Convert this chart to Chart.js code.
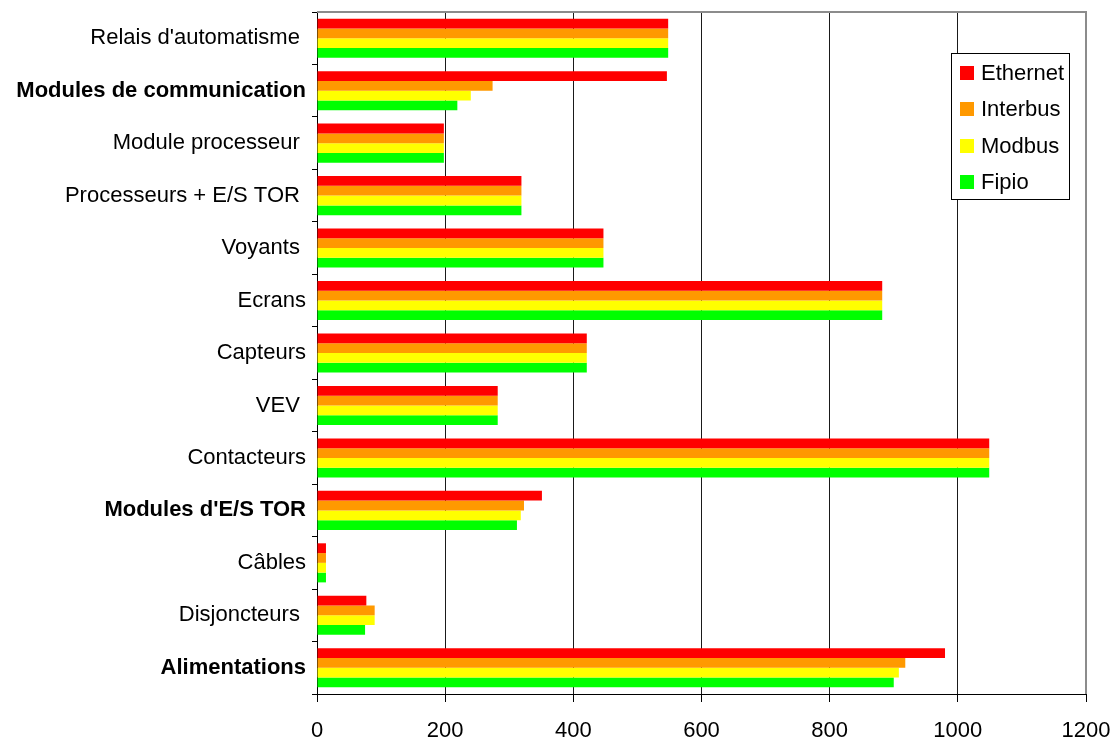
<!DOCTYPE html>
<html>
<head>
<meta charset="utf-8">
<script src="https://cdn.jsdelivr.net/npm/chart.js@4"></script>
<style>
  html, body { margin: 0; padding: 0; background: #fff; }
  #wrap { width: 1115px; height: 740px; }
</style>
</head>
<body>
<div id="wrap"><canvas id="grafico" width="1115" height="740"></canvas></div>
<script>
// Catégories (de haut en bas)
const categories = [
    "Relais d'automatisme ",
    'Modules de communication',
    'Module processeur ',
    'Processeurs + E/S TOR ',
    'Voyants ',
    'Ecrans',
    'Capteurs',
    'VEV ',
    'Contacteurs',
    "Modules d'E/S TOR",
    'Câbles',
    'Disjoncteurs ',
    'Alimentations'
];

// Séries
const seriesNames = ['Ethernet', 'Interbus', 'Modbus', 'Fipio'];
const ethernet = [548, 546, 198, 319, 447, 882, 421, 282, 1049, 351, 14, 77, 980];
const interbus = [548, 274, 198, 319, 447, 882, 421, 282, 1049, 323, 14, 90, 918];
const modbus   = [548, 240, 198, 319, 447, 882, 421, 282, 1049, 318, 14, 90, 908];
const fipio    = [548, 219, 198, 319, 447, 882, 421, 282, 1049, 312, 14, 75, 900];

// Graduations de l'axe des valeurs
const xTicks = [0, 200, 400, 600, 800, 1000, 1200];

const couleurs = ['#ff0000', '#ff9900', '#ffff00', '#00ff00'];
const labelsGras = ['Modules de communication', "Modules d'E/S TOR", 'Alimentations'];
const POLICE = "'Liberation Sans', Arial, sans-serif";

// Cadre gris en haut et à droite + légende dans la zone de tracé
const cadreEtLegende = {
    id: 'cadreEtLegende',
    afterDatasetsDraw(chart) {
        const { ctx, chartArea: a } = chart;
        ctx.save();
        ctx.strokeStyle = '#8c8c8c';
        ctx.lineWidth = 2;
        ctx.beginPath();
        ctx.moveTo(a.left, a.top);
        ctx.lineTo(a.right, a.top);
        ctx.lineTo(a.right, a.bottom);
        ctx.stroke();
        ctx.restore();
    },
    afterDraw(chart) {
        const { ctx, chartArea: a } = chart;
        const x0 = a.right - 135, y0 = a.top + 41, w = 118, h = 146;
        ctx.save();
        ctx.fillStyle = '#fff';
        ctx.fillRect(x0, y0, w, h);
        ctx.strokeStyle = '#000';
        ctx.lineWidth = 1;
        ctx.strokeRect(x0 + 0.5, y0 + 0.5, w, h);
        ctx.font = '22px ' + POLICE;
        ctx.textBaseline = 'middle';
        ctx.textAlign = 'left';
        chart.data.datasets.forEach((ds, i) => {
            const y = y0 + 20 + i * 36.3;
            ctx.fillStyle = ds.backgroundColor;
            ctx.fillRect(x0 + 9, Math.round(y - 7), 14, 14);
            ctx.fillStyle = '#000';
            ctx.fillText(ds.label, x0 + 30, y + 1);
        });
        ctx.restore();
    }
};

const valeurs = [ethernet, interbus, modbus, fipio];

new Chart(document.getElementById('grafico'), {
    type: 'bar',
    data: {
        labels: categories,
        datasets: seriesNames.map((nom, i) => ({
            label: nom,
            data: valeurs[i],
            backgroundColor: couleurs[i],
            borderWidth: 0,
            barPercentage: 1,
            categoryPercentage: 0.745
        }))
    },
    options: {
        indexAxis: 'y',
        responsive: false,
        animation: false,
        layout: { padding: { top: 12, right: 29, left: 0, bottom: 0 } },
        plugins: {
            legend: { display: false },
            tooltip: { enabled: false }
        },
        scales: {
            x: {
                min: 0,
                max: 1200,
                afterBuildTicks: (scale) => {
                    scale.ticks = xTicks.map(v => ({ value: v }));
                },
                afterFit: (scale) => {
                    scale.height = 46;
                    scale.paddingLeft = 0;
                    scale.paddingRight = 0;
                },
                border: { display: true, color: '#000', width: 1 },
                grid: {
                    color: (c) => c.tick && c.tick.value === 1200 ? '#8c8c8c' : '#1a1a1a',
                    tickColor: '#000',
                    tickLength: 8,
                    lineWidth: 1
                },
                ticks: {
                    color: '#000',
                    padding: 16,
                    maxRotation: 0,
                    callback: (v) => String(v),
                    font: { family: POLICE, size: 22 }
                }
            },
            y: {
                afterFit: (scale) => {
                    scale.width = 317;
                    scale.paddingTop = 0;
                    scale.paddingBottom = 0;
                },
                border: { display: true, color: '#000', width: 1 },
                grid: {
                    offset: true,
                    drawOnChartArea: false,
                    drawTicks: true,
                    tickLength: 5,
                    tickColor: '#000'
                },
                ticks: {
                    color: '#000',
                    padding: 6,
                    autoSkip: false,
                    font: (c) => ({
                        family: POLICE,
                        size: 22,
                        weight: labelsGras.includes(categories[c.index]) ? 'bold' : 'normal'
                    })
                }
            }
        }
    },
    plugins: [cadreEtLegende]
});
</script>
</body>
</html>
